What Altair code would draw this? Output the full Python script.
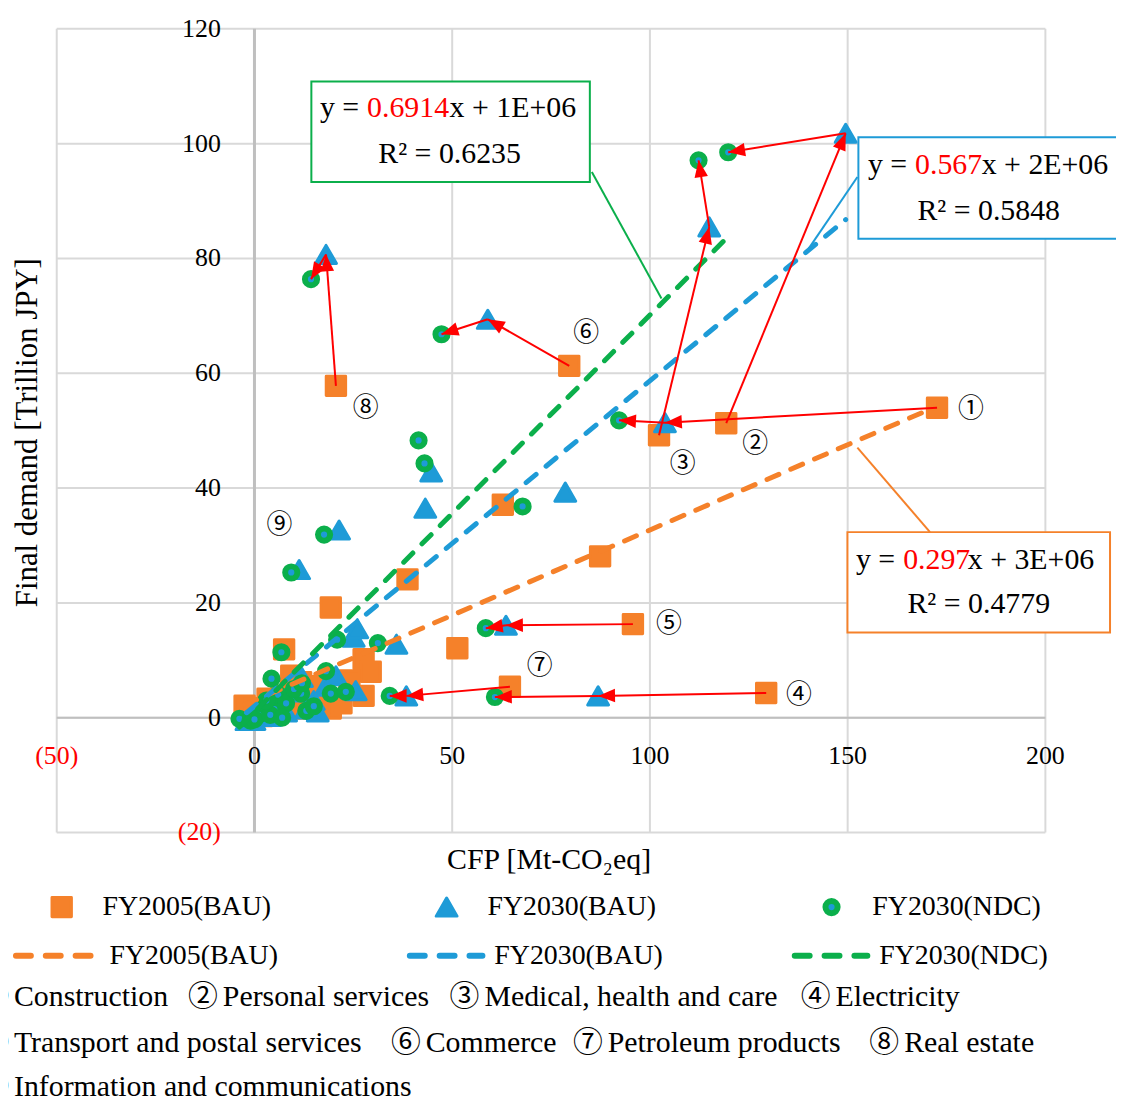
import altair as alt
import pandas as pd

# ---------------- data ----------------
# first 8 entries of each series are sectors ①..⑧ (linked by arrows)
fy05_x = [172.6, 119.3, 102.3, 129.4, 95.7, 79.6, 64.6, 20.6,
          62.8, 87.4, 38.7, 19.3, 51.3, 27.6, 29.4, 27.6, 7.5,
          -2.5, 0.0, 3.3, 6.8, 9.3, 11.8, 12.6, 15.1, 17.6, 19.3, 5.0, 2.0, 8.0, 14.0, 22.0, 24.0, 10.0]
fy05_y = [54.0, 51.3, 49.2, 4.3, 16.3, 61.3, 5.4, 57.8,
          37.1, 28.1, 24.1, 19.2, 12.1, 10.2, 8.0, 3.8, 11.9,
          2.1, 1.6, 3.3, 3.8, 7.3, 6.2, 1.6, 5.5, 3.3, 1.6, 1.0, 0.3, 2.0, 3.5, 2.5, 6.5, 4.5]

bau_x = [103.8, 149.5, 115.0, 86.9, 63.6, 59.0, 38.4, 18.1,
         78.6, 44.7, 43.2, 21.4, 11.3, 25.1, 35.9, 25.6, 26.0,
         1.0, 3.0, 5.0, 7.0, 9.0, 11.0, 13.0, 15.0, 18.0, 20.6, 0.0, -2.0, 4.0, 8.0, 12.0, 16.0]
bau_y = [51.4, 101.8, 85.5, 3.8, 16.1, 69.4, 3.8, 80.7,
         39.3, 42.8, 36.5, 32.7, 25.8, 14.0, 12.8, 4.7, 15.5,
         0.5, 1.5, 3.0, 2.0, 4.5, 6.0, 1.5, 3.0, 5.5, 7.3, -0.5, -0.5, 0.2, 1.0, 7.0, 1.0]

ndc_x = [92.2, 119.8, 112.3, 60.8, 58.5, 47.3, 34.2, 14.3,
         41.5, 43.0, 67.8, 17.6, 9.3, 20.9, 31.2, 6.8, 18.1, 4.3, 19.3, 23.1, 13.1,
         -3.8, 2.5, 11.8, 1.0, 5.0, 6.0, 8.0, 10.0, 12.0, 15.0, -1.0, 0.0, 4.0, 7.0, 3.0]
ndc_y = [51.8, 98.5, 97.1, 3.6, 15.6, 66.8, 3.8, 76.4,
         48.3, 44.3, 36.8, 31.9, 25.3, 13.6, 13.0, 11.4, 8.1, 6.8, 4.2, 4.5, 1.2,
         -0.2, 1.9, 4.2, 0.5, 1.5, 4.0, 2.5, 5.0, 6.0, 2.0, -0.5, -0.3, 0.5, 0.0, 3.0]

series_names = ["FY2005(BAU)", "FY2030(BAU)", "FY2030(NDC)"]
trend_slope = [0.297, 0.567, 0.6914]
trend_icpt = [3.0, 2.0, 1.0]
trend_slope_txt = ["0.297", "0.567", "0.6914"]
trend_icpt_txt = ["3E+06", "2E+06", "1E+06"]
trend_r2_txt = ["0.4779", "0.5848", "0.6235"]

sector_marks = ["①", "②", "③", "④", "⑤", "⑥", "⑦", "⑧", "⑨"]
sector_names = ["Construction", "Personal services", "Medical, health and care", "Electricity",
                "Transport and postal services", "Commerce", "Petroleum products", "Real estate",
                "Information and communications"]
sector_lab_x = [181.2, 126.6, 108.3, 137.7, 104.8, 83.9, 72.1, 28.1, 6.3]
sector_lab_y = [53.7, 47.6, 44.2, 4.0, 16.3, 67.0, 9.0, 54.0, 33.6]

x_ticks = [-50, 0, 50, 100, 150, 200]
y_ticks = [-20, 0, 20, 40, 60, 80, 100, 120]

# ---------------- styling ----------------
ORANGE = "#F5812A"
BLUE = "#1E9BD7"
GREEN = "#0BAF4B"
RED = "#FF0000"
GRID = "#D9D9D9"
AXISC = "#BFBFBF"
SERIF = "Liberation Serif"
CIRC = "Liberation Serif, Noto Sans CJK JP"
GAP = "\u2006"

W, H = 994, 808
PX0, PY0 = 57, 26
KX, KY = W / 250.0, H / 140.0

xs = alt.Scale(domain=[-50, 200], nice=False, zero=False)
ys = alt.Scale(domain=[-20, 120], nice=False, zero=False)


def X(f):
    return alt.X(f, type="quantitative", scale=xs, axis=None)


def Y(f):
    return alt.Y(f, type="quantitative", scale=ys, axis=None)


def rx(px):
    return px - PX0


def ry(py):
    return py - PY0


one = pd.DataFrame({"a": [0]})


def txt(text, px, py, size=28, color="black", align="left", font=SERIF, angle=0):
    kw = dict(text=text, align=align, baseline="middle", fontSize=size, font=font, color=color)
    if angle:
        kw["angle"] = angle
    return alt.Chart(one).mark_text(**kw).encode(x=alt.value(rx(px)), y=alt.value(ry(py)))


def seg(px1, py1, px2, py2, color, width=2, dash=None):
    kw = dict(color=color, strokeWidth=width)
    if dash:
        kw["strokeDash"] = dash
        kw["strokeCap"] = "round"
    return alt.Chart(one).mark_rule(**kw).encode(
        x=alt.value(rx(px1)), y=alt.value(ry(py1)), x2=alt.value(rx(px2)), y2=alt.value(ry(py2)))


layers = []

# grid
gx = pd.DataFrame({"v": x_ticks})
gy = pd.DataFrame({"v": y_ticks})
layers.append(alt.Chart(gx).mark_rule(color=GRID, strokeWidth=2).encode(x=X("v")))
layers.append(alt.Chart(gy).mark_rule(color=GRID, strokeWidth=2).encode(y=Y("v")))
# zero axes
layers.append(alt.Chart(pd.DataFrame({"v": [0]})).mark_rule(color=AXISC, strokeWidth=3).encode(x=X("v")))
layers.append(alt.Chart(pd.DataFrame({"v": [0]})).mark_rule(color=AXISC, strokeWidth=2).encode(y=Y("v")))

# tick labels
lab_expr = "datum.v < 0 ? '(' + (-datum.v) + ')' : '' + datum.v"
layers.append(alt.Chart(gx).transform_calculate(lab=lab_expr).mark_text(
    font=SERIF, fontSize=26, baseline="middle", align="center").encode(
    x=X("v"), y=alt.value(ry(757)), text="lab:N",
    color=alt.condition("datum.v < 0", alt.value(RED), alt.value("black"))))
layers.append(alt.Chart(gy).transform_calculate(lab=lab_expr).mark_text(
    font=SERIF, fontSize=26, baseline="middle", align="right").encode(
    y=Y("v"), x=alt.value(rx(222)), text="lab:N",
    color=alt.condition("datum.v < 0", alt.value(RED), alt.value("black"))))

# axis titles
layers.append(txt("Final demand [Trillion JPY]", 28, 432, size=31, align="center", angle=270))
layers.append(txt("CFP [Mt-CO₂eq]", 552, 862, size=30, align="center"))

# markers
df05 = pd.DataFrame({"x": fy05_x, "y": fy05_y})
dfb = pd.DataFrame({"x": bau_x, "y": bau_y})
dfn = pd.DataFrame({"x": ndc_x, "y": ndc_y})
layers.append(alt.Chart(df05).mark_point(shape="square", filled=True, fill=ORANGE, stroke=ORANGE,
                                         strokeWidth=3, strokeJoin="round", size=380, opacity=1).encode(x=X("x"), y=Y("y")))
layers.append(alt.Chart(dfb).mark_point(shape="triangle-up", filled=True, fill=BLUE, stroke=BLUE,
                                        strokeWidth=3, strokeJoin="round", size=440, opacity=1).encode(x=X("x"), y=Y("y")))
layers.append(alt.Chart(dfn).mark_point(shape="circle", filled=True, fill=BLUE, stroke=GREEN,
                                        strokeWidth=6, size=150, opacity=1).encode(x=X("x"), y=Y("y")))

# trendlines (from the displayed equations, over each series' x range)
colors = [ORANGE, BLUE, GREEN]
for i, xs_ in enumerate([fy05_x, bau_x, ndc_x]):
    x0, x1 = min(xs_), max(xs_)
    tdf = pd.DataFrame({"x": [x0, x1], "y": [trend_slope[i] * x0 + trend_icpt[i], trend_slope[i] * x1 + trend_icpt[i]]})
    layers.append(alt.Chart(tdf).mark_line(color=colors[i], strokeWidth=5, strokeDash=[13, 13],
                                           strokeCap="round").encode(x=X("x"), y=Y("y")))

# arrows: FY2005 -> FY2030(BAU) -> FY2030(NDC) for sectors ①..⑧
arr = []
for k in range(8):
    arr.append({"sx": fy05_x[k], "sy": fy05_y[k], "tx": bau_x[k], "ty": bau_y[k]})
    arr.append({"sx": bau_x[k], "sy": bau_y[k], "tx": ndc_x[k], "ty": ndc_y[k]})
adf = pd.DataFrame(arr)
layers.append(alt.Chart(adf).mark_rule(color=RED, strokeWidth=2).encode(
    x=X("sx"), y=Y("sy"), x2="tx:Q", y2="ty:Q"))
layers.append(alt.Chart(adf).transform_calculate(
    ang=f"(atan2((datum.tx - datum.sx) * {KX}, (datum.ty - datum.sy) * {KY}) * 180 / PI + 360) % 360"
).mark_point(shape="M0,0 L0.4,1 L-0.4,1 Z", filled=True, color=RED, size=1156, opacity=1).encode(
    x=X("tx"), y=Y("ty"), angle=alt.Angle("ang:Q", scale=None)))

# sector number labels in plot
sdf = pd.DataFrame({"x": sector_lab_x, "y": sector_lab_y, "t": sector_marks})
layers.append(alt.Chart(sdf).mark_text(font=CIRC, fontSize=26, align="center", baseline="middle",
                                       color="black").encode(x=X("x"), y=Y("y"), text="t:N"))

# trendline callouts
# green (NDC)
layers.append(seg(595, 170, 665, 297, GREEN, 2))
layers.append(alt.Chart(one).mark_rect(fill="white", stroke=GREEN, strokeWidth=2).encode(
    x=alt.value(rx(313)), x2=alt.value(rx(593)), y=alt.value(ry(79)), y2=alt.value(ry(180))))
layers.append(txt("y =", 361, 106, size=30, align="right"))
layers.append(txt(trend_slope_txt[2], 369, 106, size=30, color=RED))
layers.append(txt("x + " + trend_icpt_txt[2], 452, 106, size=30))
layers.append(txt("R² = " + trend_r2_txt[2], 452, 152, size=30, align="center"))
# blue (BAU 2030)
layers.append(seg(862, 175, 813, 247, BLUE, 2))
layers.append(alt.Chart(one).mark_rect(fill="white", stroke=BLUE, strokeWidth=2).encode(
    x=alt.value(rx(863)), x2=alt.value(rx(1140)), y=alt.value(ry(135)), y2=alt.value(ry(237))))
layers.append(txt("y =", 912, 163, size=30, align="right"))
layers.append(txt(trend_slope_txt[1], 920, 163, size=30, color=RED))
layers.append(txt("x + " + trend_icpt_txt[1], 987, 163, size=30))
layers.append(txt("R² = " + trend_r2_txt[1], 994, 209, size=30, align="center"))
# orange (FY2005)
layers.append(seg(862, 447, 935, 532, ORANGE, 2))
layers.append(alt.Chart(one).mark_rect(fill="white", stroke=ORANGE, strokeWidth=2).encode(
    x=alt.value(rx(852)), x2=alt.value(rx(1116)), y=alt.value(ry(532)), y2=alt.value(ry(633))))
layers.append(txt("y =", 900, 560, size=30, align="right"))
layers.append(txt(trend_slope_txt[0], 908, 560, size=30, color=RED))
layers.append(txt("x + " + trend_icpt_txt[0], 973, 560, size=30))
layers.append(txt("R² = " + trend_r2_txt[0], 984, 604, size=30, align="center"))

# legend row 1 (markers)
leg_sym_x = [62, 449, 836]
leg_lab_x = [103, 490, 877]
layers.append(alt.Chart(one).mark_point(shape="square", filled=True, fill=ORANGE, stroke=ORANGE, strokeWidth=3,
                                        strokeJoin="round", size=380, opacity=1).encode(
    x=alt.value(rx(leg_sym_x[0])), y=alt.value(ry(909))))
layers.append(alt.Chart(one).mark_point(shape="triangle-up", filled=True, fill=BLUE, stroke=BLUE, strokeWidth=3,
                                        strokeJoin="round", size=440, opacity=1).encode(
    x=alt.value(rx(leg_sym_x[1])), y=alt.value(ry(909))))
layers.append(alt.Chart(one).mark_point(shape="circle", filled=True, fill=BLUE, stroke=GREEN, strokeWidth=6,
                                        size=150, opacity=1).encode(
    x=alt.value(rx(leg_sym_x[2])), y=alt.value(ry(909))))
for i in range(3):
    layers.append(txt(series_names[i], leg_lab_x[i], 909, size=28))

# legend row 2 (trendlines)
leg_line_x = [(16, 91), (412, 485), (799, 872)]
leg_line_lab = [110, 497, 884]
for i in range(3):
    layers.append(seg(leg_line_x[i][0], 958, leg_line_x[i][1], 958, colors[i], 6, dash=[15, 15]))
    layers.append(txt(series_names[i], leg_line_lab[i], 958, size=28))

# sector key rows
row_items = [
    [(0, -21, 999), (1, 189, 999), (2, 452, 999), (3, 805, 999)],
    [(4, -21, 1046), (5, 393, 1046), (6, 576, 1046), (7, 874, 1046)],
    [(8, -21, 1090)],
]
for row in row_items:
    for k, px, py in row:
        layers.append(txt(sector_marks[k] + GAP + sector_names[k], px, py, size=30, font=CIRC))

chart = alt.layer(*layers).properties(
    width=W, height=H,
    autosize=alt.AutoSizeParams(type="none"),
    padding={"left": 49, "top": 18, "right": 71, "bottom": 270},
    background="white",
).configure_view(stroke=None)

chart.save("out.html", embed_options={"renderer": "svg", "actions": False})
